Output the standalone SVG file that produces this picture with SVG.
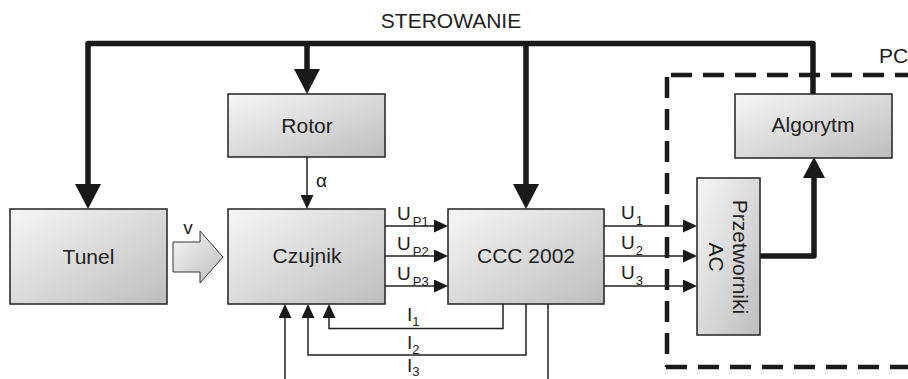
<svg xmlns="http://www.w3.org/2000/svg" width="908" height="379" viewBox="0 0 908 379">
<defs>
  <linearGradient id="boxg" x1="0" y1="0" x2="1" y2="1">
    <stop offset="0" stop-color="#f6f6f6"/>
    <stop offset="1" stop-color="#bdbdbd"/>
  </linearGradient>
  <marker id="thin" markerUnits="userSpaceOnUse" viewBox="0 0 14 13" refX="0" refY="6.5" markerWidth="14" markerHeight="13" orient="auto">
    <path d="M0,0 L14,6.5 L0,13 Z" fill="#1a1a1a"/>
  </marker>
  <marker id="thick" markerUnits="userSpaceOnUse" viewBox="0 0 25 26" refX="0" refY="13" markerWidth="25" markerHeight="26" orient="auto">
    <path d="M0,0 L25,13 L0,26 Z" fill="#1a1a1a"/>
  </marker>
  <marker id="thick2" markerUnits="userSpaceOnUse" viewBox="0 0 21 22" refX="0" refY="11" markerWidth="21" markerHeight="22" orient="auto">
    <path d="M0,0 L21,11 L0,22 Z" fill="#1a1a1a"/>
  </marker>
</defs>
<style>
  .box { fill: url(#boxg); stroke: #222; stroke-width: 1.5; }
  .lbl { font-family: "Liberation Sans", Arial, sans-serif; font-size: 21px; fill: #222; text-anchor: middle; }
  .sm { font-family: "Liberation Sans", Arial, sans-serif; font-size: 19px; fill: #222; }
  .sub { font-size: 13px; }
  .thin { fill: none; stroke: #222; stroke-width: 1.5; }
  .thk { fill: none; stroke: #1a1a1a; stroke-width: 5.5; stroke-linejoin: round; }
  .dash { fill: none; stroke: #1a1a1a; stroke-width: 4.5; stroke-dasharray: 21 11; }
</style>
<rect width="908" height="379" fill="#ffffff"/>

<g id="pc-frame">
  <path class="dash" d="M671,75 H908"/>
  <path class="dash" d="M667,77 V367"/>
  <path class="dash" d="M666,367 H908"/>
  <text class="lbl" x="879" y="63" style="text-anchor:start">PC</text>
</g>

<g id="connectors">
  <path class="thk" d="M813,95 V43.5 H88 V184" stroke-linecap="round" marker-end="url(#thick)"/>
  <path class="thk" d="M307,43.5 V69" marker-end="url(#thick)"/>
  <path class="thk" d="M526,43.5 V184" marker-end="url(#thick)"/>
  <path class="thk" d="M760,256 H814 V178" marker-end="url(#thick2)"/>
  <path class="thin" d="M307,157 V195" marker-end="url(#thin)"/>
  <path class="thin" d="M385,226 H434" marker-end="url(#thin)"/>
  <path class="thin" d="M385,256 H434" marker-end="url(#thin)"/>
  <path class="thin" d="M385,286 H434" marker-end="url(#thin)"/>
  <path class="thin" d="M604,226 H683" marker-end="url(#thin)"/>
  <path class="thin" d="M604,256 H683" marker-end="url(#thin)"/>
  <path class="thin" d="M604,286 H683" marker-end="url(#thin)"/>
  <path class="thin" d="M503,304 V328.5 H329 V318" marker-end="url(#thin)"/>
  <path class="thin" d="M526,304 V355 H308 V318" marker-end="url(#thin)"/>
  <path class="thin" d="M548,304 V379"/>
  <path class="thin" d="M285,379 V318" marker-end="url(#thin)"/>
  <polygon points="173,242 200,242 200,231 223,257 200,283 200,272 173,272" fill="url(#boxg)" stroke="#333" stroke-width="1"/>
  <text class="lbl" x="451" y="28">STEROWANIE</text>
  <text class="sm" x="188" y="234" text-anchor="middle">v</text>
  <text class="sm" x="316" y="187">α</text>
  <text class="sm" x="397" y="220">U<tspan class="sub" dx="2" dy="6">P1</tspan></text>
  <text class="sm" x="397" y="250">U<tspan class="sub" dx="2" dy="6">P2</tspan></text>
  <text class="sm" x="397" y="280">U<tspan class="sub" dx="2" dy="6">P3</tspan></text>
  <text class="sm" x="621" y="219">U<tspan class="sub" dx="1" dy="6">1</tspan></text>
  <text class="sm" x="621" y="249">U<tspan class="sub" dx="1" dy="6">2</tspan></text>
  <text class="sm" x="621" y="279">U<tspan class="sub" dx="1" dy="6">3</tspan></text>
  <text class="sm" x="407" y="321">I<tspan class="sub" dx="0" dy="5">1</tspan></text>
  <text class="sm" x="407" y="349">I<tspan class="sub" dx="0" dy="5">2</tspan></text>
  <text class="sm" x="407" y="372">I<tspan class="sub" dx="0" dy="4">3</tspan></text>
</g>

<g id="rotor">
  <rect class="box" x="228" y="94" width="157" height="63"/>
  <text class="lbl" x="307" y="133">Rotor</text>
</g>
<g id="tunel">
  <rect class="box" x="10" y="209" width="157" height="95"/>
  <text class="lbl" x="88.5" y="264">Tunel</text>
</g>
<g id="czujnik">
  <rect class="box" x="228" y="209" width="157" height="95"/>
  <text class="lbl" x="307" y="263">Czujnik</text>
</g>
<g id="ccc2002">
  <rect class="box" x="448" y="209" width="156" height="95"/>
  <text class="lbl" x="526" y="263">CCC 2002</text>
</g>
<g id="algorytm">
  <rect class="box" x="735" y="94" width="157" height="64"/>
  <text class="lbl" x="813" y="132">Algorytm</text>
</g>
<g id="przetworniki">
  <rect class="box" x="697" y="178" width="63" height="157"/>
  <text class="lbl" transform="translate(733,257) rotate(90)" x="0" y="0">Przetworniki</text>
  <text class="lbl" transform="translate(709,257) rotate(90)" x="0" y="0">AC</text>
</g>
</svg>
